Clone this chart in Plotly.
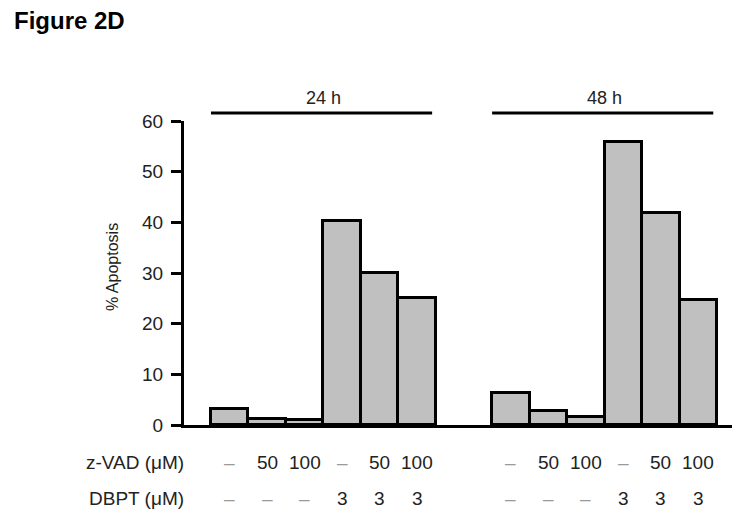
import plotly.graph_objects as go

FONT = "Liberation Sans, Arial, sans-serif"

times = ["24 h", "48 h"]
zvad_labels = ["–", "50", "100", "–", "50", "100"]
dbpt_labels = ["–", "–", "–", "3", "3", "3"]
apoptosis_24h = [3.2, 1.2, 1.0, 40.3, 30.0, 25.1]
apoptosis_48h = [6.4, 2.8, 1.6, 55.9, 41.8, 24.7]
y_ticks = [0, 10, 20, 30, 40, 50, 60]

GROUP_GAP = 1.5
n = len(zvad_labels)
groups = [apoptosis_24h, apoptosis_48h]

fig = go.Figure()
for g, vals in enumerate(groups):
    start = g * (n + GROUP_GAP)
    centers = [start + i + 0.5 for i in range(n)]
    fig.add_trace(
        go.Bar(
            x=centers,
            y=vals,
            width=1.0,
            marker=dict(color="#c0c0c0", line=dict(color="black", width=3)),
            showlegend=False,
            hoverinfo="skip",
        )
    )
    # bracket line + time label
    x0, x1 = centers[0] - 0.5, centers[-1] + 0.5
    fig.add_shape(type="line", xref="x", yref="paper", x0=x0, x1=x1 - 0.1,
                  y0=1.026, y1=1.026, line=dict(color="black", width=3))
    fig.add_annotation(x=(x0 + x1) / 2, y=1.076, xref="x", yref="paper",
                       text=times[g], showarrow=False,
                       font=dict(size=18, color="#222"), yanchor="middle")
    for c, zl, dl in zip(centers, zvad_labels, dbpt_labels):
        for lab, yy in ((zl, -0.122), (dl, -0.243)):
            fig.add_annotation(x=c, y=yy, xref="x", yref="paper", text=lab,
                               showarrow=False, yanchor="middle",
                               font=dict(size=19, color="#999" if lab == "–" else "#222"))

for lab, yy in (("z-VAD (μM)", -0.122), ("DBPT (μM)", -0.243)):
    fig.add_annotation(x=0, y=yy, xref="paper", yref="paper", text=lab,
                       showarrow=False, xanchor="right", yanchor="middle", xshift=2,
                       font=dict(size=19, color="#222"))

fig.add_annotation(x=0, y=1.329, xref="paper", yref="paper", text="<b>Figure 2D</b>",
                   showarrow=False, xanchor="left", yanchor="middle", xshift=-172,
                   font=dict(size=24, color="black"))

fig.add_annotation(x=0, y=0.52, xref="paper", yref="paper", text="% Apoptosis",
                   showarrow=False, textangle=-90, xanchor="center", yanchor="middle",
                   xshift=-71, font=dict(size=16, color="#222"))

fig.update_xaxes(range=[-0.72, 13.9], showline=True, linecolor="black", linewidth=3,
                 showticklabels=False, ticks="", showgrid=False, zeroline=False)
fig.update_yaxes(range=[0, 60], tickvals=y_ticks, showline=True, linecolor="black",
                 linewidth=3, ticks="outside", ticklen=10, tickwidth=3, tickcolor="black",
                 showgrid=False, zeroline=False, tickfont=dict(size=19, color="#222"),
                 ticklabelstandoff=4)

fig.update_layout(
    width=737, height=521,
    margin=dict(l=176, r=13, t=113, b=104),
    paper_bgcolor="white", plot_bgcolor="white",
    font=dict(family=FONT),
    bargap=0,
)

fig.write_html("out.html")
